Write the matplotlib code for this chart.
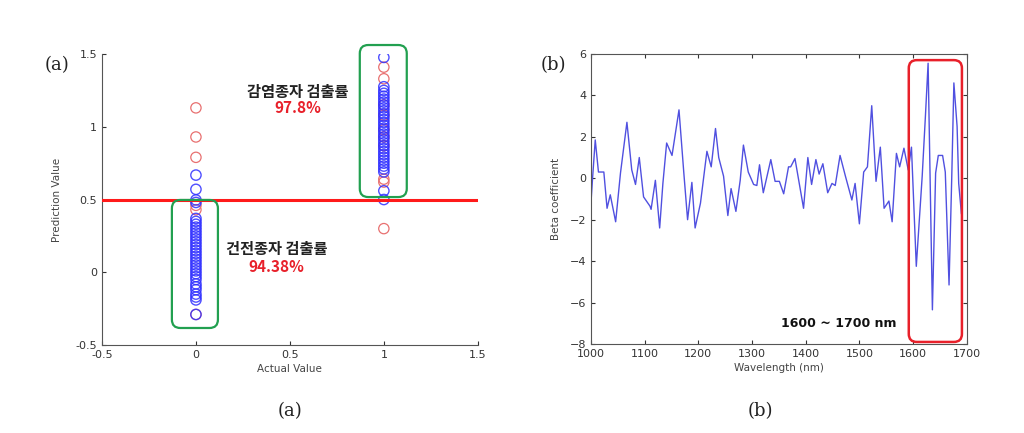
import matplotlib
matplotlib.use("Agg")
import matplotlib.pyplot as plt
from matplotlib.patches import FancyBboxPatch

# ---------------- data ----------------
# panel (a): predicted values by class
actual_neg = 0
actual_pos = 1
neg_blue = [0.668, 0.57, 0.497, 0.48, 0.37, 0.35, 0.33, 0.31, 0.29, 0.27, 0.25, 0.23,
            0.21, 0.19, 0.17, 0.15, 0.13, 0.11, 0.09, 0.07, 0.05, 0.03, 0.01, -0.01,
            -0.03, -0.05, -0.08, -0.10, -0.12, -0.15, -0.17, -0.19, -0.29]
neg_red = [1.13, 0.93, 0.79, 0.46, 0.43, -0.29]
pos_blue = [1.477, 1.275, 1.25, 1.23, 1.21, 1.19, 1.17, 1.15, 1.13, 1.11, 1.09, 1.07,
            1.05, 1.03, 1.01, 0.99, 0.97, 0.95, 0.93, 0.91, 0.89, 0.87, 0.85, 0.83,
            0.81, 0.79, 0.77, 0.75, 0.73, 0.71, 0.69, 0.56, 0.50]
pos_red = [1.41, 1.33, 1.15, 1.08, 0.98, 0.93, 0.87, 0.64, 0.62, 0.30]
threshold = 0.5

# panel (b): beta coefficients
wavelength = [1000, 1003, 1008, 1014, 1024, 1030, 1036, 1046, 1055, 1067, 1076, 1083,
              1090, 1098, 1110, 1112, 1120, 1128, 1134, 1141, 1151, 1164, 1173, 1180,
              1188, 1194, 1204, 1216, 1224, 1232, 1238, 1247, 1255, 1261, 1270, 1278,
              1284, 1293, 1303, 1309, 1314, 1321, 1335, 1343, 1351, 1359, 1368, 1372,
              1380, 1387, 1396, 1404, 1411, 1419, 1425, 1432, 1441, 1449, 1455, 1464,
              1474, 1486, 1492, 1500, 1508, 1515, 1523, 1531, 1539, 1546, 1555, 1561,
              1569, 1575, 1583, 1591, 1597, 1606, 1617, 1623, 1628, 1636, 1642, 1647,
              1655, 1660, 1667, 1672, 1676, 1682, 1685, 1690]
beta = [-1.2, 0.0, 1.85, 0.3, 0.3, -1.45, -0.8, -2.1, 0.25, 2.7, 0.4, -0.3,
        1.0, -0.9, -1.35, -1.5, -0.1, -2.4, -0.25, 1.7, 1.1, 3.3, 0.25, -2.0,
        -0.2, -2.4, -1.2, 1.3, 0.55, 2.4, 1.0, 0.1, -1.8, -0.5, -1.6, -0.1,
        1.6, 0.3, -0.3, -0.35, 0.65, -0.7, 0.9, -0.15, -0.15, -0.75, 0.55, 0.55,
        0.95, -0.1, -1.45, 1.0, -0.3, 0.9, 0.2, 0.7, -0.7, -0.25, -0.35, 1.1,
        0.1, -1.05, -0.25, -2.2, 0.3, 0.55, 3.5, -0.15, 1.5, -1.45, -1.1, -2.1,
        1.2, 0.55, 1.45, 0.4, 1.5, -4.25, 0.1, 3.0, 5.55, -6.35, 0.25, 1.1,
        1.1, 0.3, -5.15, 0.0, 4.6, 2.5, -0.25, -1.7]

ticks_a = [-0.5, 0, 0.5, 1, 1.5]
tick_labels_a = ['-0.5', '0', '0.5', '1', '1.5']
ticks_bx = [1000, 1100, 1200, 1300, 1400, 1500, 1600, 1700]
ticks_by = [-8, -6, -4, -2, 0, 2, 4, 6]

# ---------------- figure ----------------
plt.rcParams['font.family'] = ['DejaVu Sans']
fig = plt.figure(figsize=(10.24, 4.33), dpi=100)
fig.patch.set_facecolor('white')

tick_col = '#333333'

# ---- panel (a) ----
axa = fig.add_axes([0.0996, 0.2032, 0.367, 0.672])
axa.scatter([actual_neg] * len(neg_red), neg_red, s=55, facecolors='none',
            edgecolors='#e87070', linewidths=0.9, zorder=3)
axa.scatter([actual_pos] * len(pos_red), pos_red, s=55, facecolors='none',
            edgecolors='#e87070', linewidths=0.9, zorder=3)
axa.scatter([actual_neg] * len(neg_blue), neg_blue, s=55, facecolors='none',
            edgecolors='#3030ff', linewidths=1.0, alpha=0.85, zorder=4)
axa.scatter([actual_pos] * len(pos_blue), pos_blue, s=55, facecolors='none',
            edgecolors='#3030ff', linewidths=1.0, alpha=0.85, zorder=4)
axa.axhline(threshold, color='#ff1a1a', lw=2.2, zorder=5)

axa.set_xlim(-0.5, 1.5)
axa.set_ylim(-0.5, 1.5)
axa.set_xticks(ticks_a)
axa.set_xticklabels(tick_labels_a)
axa.set_yticks(ticks_a)
axa.set_yticklabels(tick_labels_a)
axa.tick_params(direction='in', labelsize=8, colors=tick_col, length=3)
for s in ['top', 'right']:
    axa.spines[s].set_visible(False)
for s in ['left', 'bottom']:
    axa.spines[s].set_color('#555555')
axa.set_xlabel('Actual Value', fontsize=7.5, color='#444444', labelpad=3)
axa.set_ylabel('Prediction Value', fontsize=7.5, color='#444444', labelpad=10)

green = '#22a050'
boxa1 = FancyBboxPatch((-0.128, -0.383), 0.245, 0.88,
                       boxstyle='round,pad=0,rounding_size=0.045',
                       mutation_aspect=1.29, fill=False, ec=green, lw=1.6,
                       zorder=6, clip_on=False)
boxa2 = FancyBboxPatch((0.872, 0.517), 0.25, 1.045,
                       boxstyle='round,pad=0,rounding_size=0.045',
                       mutation_aspect=1.29, fill=False, ec=green, lw=1.6,
                       zorder=6, clip_on=False)
axa.add_patch(boxa1)
axa.add_patch(boxa2)

kfont = ['Noto Sans CJK KR', 'DejaVu Sans']
axa.text(0.543, 1.24, '감염종자 검출률', fontsize=11, fontweight='bold',
         family=kfont, ha='center', va='center', color='#222222')
axa.text(0.543, 1.13, '97.8%', fontsize=11, fontweight='bold',
         family=kfont, ha='center', va='center', color='#e8202a')
axa.text(0.43, 0.16, '건전종자 검출률', fontsize=11, fontweight='bold',
         family=kfont, ha='center', va='center', color='#222222')
axa.text(0.43, 0.036, '94.38%', fontsize=11, fontweight='bold',
         family=kfont, ha='center', va='center', color='#e8202a')

# ---- panel (b) ----
axb = fig.add_axes([0.5771, 0.2055, 0.367, 0.670])
axb.plot(wavelength, beta, color='#5050e0', lw=1.0)
axb.set_xlim(1000, 1700)
axb.set_ylim(-8, 6)
axb.set_xticks(ticks_bx)
axb.set_yticks(ticks_by)
axb.tick_params(direction='in', labelsize=8, colors=tick_col, length=3,
                top=True, right=True)
for s in axb.spines.values():
    s.set_color('#555555')
axb.set_xlabel('Wavelength (nm)', fontsize=7.5, color='#444444', labelpad=3)
axb.set_ylabel('Beta coefficient', fontsize=7.5, color='#444444', labelpad=6)

boxb = FancyBboxPatch((1592, -7.9), 99, 13.6,
                      boxstyle='round,pad=0,rounding_size=15',
                      mutation_aspect=0.0259, fill=False, ec='#e8202a', lw=1.8,
                      zorder=6, clip_on=False)
axb.add_patch(boxb)
axb.text(1462, -7.0, '1600 ~ 1700 nm', fontsize=9, fontweight='bold',
         ha='center', va='center', color='#111111')

# ---- panel labels & captions ----
fig.text(57 / 1024, 1 - 65 / 433, '(a)', family='DejaVu Serif', fontsize=13,
         ha='center', va='center', color='#222222')
fig.text(553 / 1024, 1 - 65 / 433, '(b)', family='DejaVu Serif', fontsize=13,
         ha='center', va='center', color='#222222')
fig.text(290 / 1024, 1 - 411 / 433, '(a)', family='DejaVu Serif', fontsize=13,
         ha='center', va='center', color='#222222')
fig.text(760 / 1024, 1 - 411 / 433, '(b)', family='DejaVu Serif', fontsize=13,
         ha='center', va='center', color='#222222')

fig.savefig('out.png', dpi=100, facecolor='white')
